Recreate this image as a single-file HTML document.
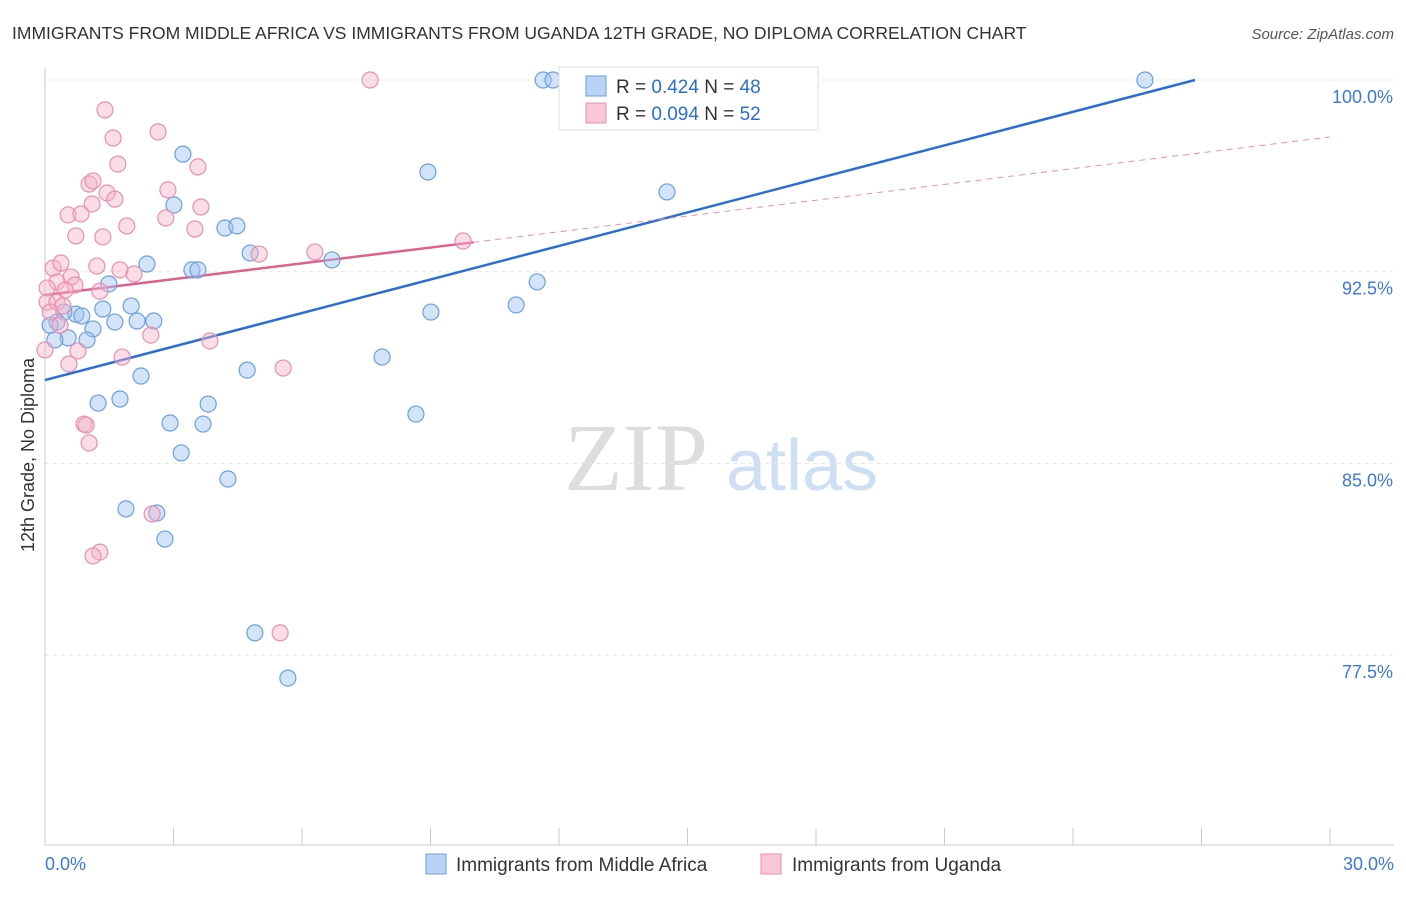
<!DOCTYPE html>
<html><head><meta charset="utf-8"><style>
body{margin:0;background:#fff;font-family:"Liberation Sans",sans-serif;}
</style></head><body>
<svg id="chart" width="1406" height="892" xmlns="http://www.w3.org/2000/svg">
<text x="12" y="39" font-size="17.5" fill="#333">IMMIGRANTS FROM MIDDLE AFRICA VS IMMIGRANTS FROM UGANDA 12TH GRADE, NO DIPLOMA CORRELATION CHART</text>
<text x="1394" y="39" font-size="15" fill="#555" text-anchor="end" font-style="italic">Source: ZipAtlas.com</text>
<g>
<text x="636" y="490" font-size="96" fill="#ddd" font-family="Liberation Serif,serif" text-anchor="middle">ZIP</text>
<text x="802" y="490" font-size="72" fill="#cfdff3" text-anchor="middle">atlas</text>
</g>
<g id="grid"></g><g id="axes"></g><g id="lines"></g><g id="pts"></g>
<text transform="translate(34,455) rotate(-90)" font-size="18" fill="#333" text-anchor="middle">12th Grade, No Diploma</text>
<g>
<rect x="559" y="67" width="259" height="63" fill="#fff" stroke="#ddd"/>
<rect x="586" y="76" width="20" height="20" fill="#b8d3f5" stroke="#6a9fe0"/>
<rect x="586" y="103" width="20" height="20" fill="#f9c6d6" stroke="#e890ac"/>
<text x="616" y="93" font-size="19" fill="#333">R = <tspan fill="#2a6dd4">0.424</tspan>   N = <tspan fill="#2a6dd4">48</tspan></text>
<text x="616" y="120" font-size="19" fill="#333">R = <tspan fill="#2a6dd4">0.094</tspan>   N = <tspan fill="#2a6dd4">52</tspan></text>
</g>
<g>
<rect x="426" y="854" width="20" height="20" fill="#b8d3f5" stroke="#6a9fe0"/>
<text x="456" y="871" font-size="19" fill="#333">Immigrants from Middle Africa</text>
<rect x="761" y="854" width="20" height="20" fill="#f9c6d6" stroke="#e890ac"/>
<text x="792" y="871" font-size="19" fill="#333">Immigrants from Uganda</text>
</g>
</svg>
<script>
const blueX=[11.63,11.86,25.68,3.22,8.94,14.52,3.01,4.20,4.48,4.79,2.38,3.43,3.57,6.70,11.49,11.00,9.01,1.49,2.01,1.35,0.72,0.86,0.44,0.28,1.12,1.63,2.15,2.54,0.54,0.98,0.23,7.87,4.72,2.24,1.24,1.75,3.81,8.66,2.92,3.69,3.18,4.27,1.89,2.61,2.80,4.90,5.67,0.12];
const blueY=[100,100,100,97.10,96.40,95.62,95.11,94.21,94.29,93.23,92.80,92.57,92.57,92.96,92.10,91.20,90.92,92.02,91.16,91.04,90.84,90.77,90.92,90.53,90.26,90.53,90.57,90.57,89.91,89.83,89.83,89.16,88.65,88.42,87.36,87.52,87.32,86.93,86.58,86.54,85.41,84.39,83.22,83.06,82.04,78.37,76.60,90.41];
const pinkX=[7.59,1.40,1.59,2.64,1.70,3.57,1.03,1.12,1.45,2.87,1.63,1.10,3.64,0.54,0.84,2.82,1.91,3.50,0.72,1.35,6.30,5.00,9.76,0.19,0.37,1.21,1.75,2.08,0.61,0.28,0.70,0.05,0.47,1.28,0.05,0.28,0.42,0.12,0.35,2.47,3.85,0.77,1.80,0.0,0.56,5.56,0.91,0.96,1.03,2.50,1.28,1.12,5.49];
const pinkY=[100,98.83,97.73,97.97,96.71,96.60,95.93,96.05,95.58,95.70,95.34,95.15,95.03,94.72,94.76,94.60,94.29,94.17,93.90,93.86,93.27,93.19,93.70,92.64,92.84,92.72,92.57,92.41,92.29,92.10,91.98,91.86,91.78,91.74,91.31,91.31,91.16,90.92,90.41,90.02,89.79,89.40,89.16,89.44,88.89,88.73,86.54,86.50,85.80,83.02,81.53,81.38,78.37];
const yTicks=[100,92.5,85,77.5];
const yTickLabels=["100.0%","92.5%","85.0%","77.5%"];
const xTicks=[0,3,6,9,12,15,18,21,24,27,30];
const blueTrend=[0,88.26,26.85,100];
const pinkTrend=[0,91.59,10,93.65,30,97.77];
const NS="http://www.w3.org/2000/svg";
const X=v=>45+v*1285/30, Y=v=>80+(100-v)*191.7/7.5;
function mk(p,t,a){const e=document.createElementNS(NS,t);for(const k in a)e.setAttribute(k,a[k]);document.getElementById(p).appendChild(e);return e;}
yTicks.forEach((t,i)=>{
 const l=mk('grid','line',{x1:45,x2:1394,y1:Y(t),y2:Y(t),stroke:'#e4e4e4','stroke-dasharray':'4,4'});
 
 
 const tx=mk('grid','text',{x:1393,y:Y(t)+23,'font-size':18,fill:'#3b78d8','text-anchor':'end'});
 tx.textContent=yTickLabels[i];
 
 
});
const ax=mk('axes','line',{x1:45,x2:45,y1:68,y2:845,stroke:'#ccc'});


const bx=mk('axes','line',{x1:45,x2:1394,y1:845,y2:845,stroke:'#ccc'});


xTicks.forEach(t=>{
 const l=mk('axes','line',{x1:X(t),x2:X(t),y1:828,y2:845,stroke:'#ccc'});
 
 
});
const xl0=mk('axes','text',{x:45,y:870,'font-size':18,fill:'#3b78d8'});xl0.textContent=xTicks[0].toFixed(1)+'%';


const xl1=mk('axes','text',{x:1394,y:870,'font-size':18,fill:'#3b78d8','text-anchor':'end'});xl1.textContent=xTicks[xTicks.length-1].toFixed(1)+'%';


blueX.forEach((v,i)=>{
 const c=mk('pts','circle',{cx:X(v),cy:Y(blueY[i]),r:8,fill:'rgba(160,196,240,0.45)',stroke:'#6a9fe0','stroke-width':1.2});
 
 
});
pinkX.forEach((v,i)=>{
 const c=mk('pts','circle',{cx:X(v),cy:Y(pinkY[i]),r:8,fill:'rgba(245,180,200,0.45)',stroke:'#e890ac','stroke-width':1.2});
 
 
});
const bl=mk('lines','line',{x1:X(blueTrend[0]),y1:Y(blueTrend[1]),x2:X(blueTrend[2]),y2:Y(blueTrend[3]),stroke:'#2a6dd4','stroke-width':2.5});


const pl=mk('lines','line',{x1:X(pinkTrend[0]),y1:Y(pinkTrend[1]),x2:X(pinkTrend[2]),y2:Y(pinkTrend[3]),stroke:'#e0608c','stroke-width':2.5});


const pd=mk('lines','line',{x1:X(pinkTrend[2]),y1:Y(pinkTrend[3]),x2:X(pinkTrend[4]),y2:Y(pinkTrend[5]),stroke:'#e890ac','stroke-width':1,'stroke-dasharray':'6,5'});


</script>
</body></html>
